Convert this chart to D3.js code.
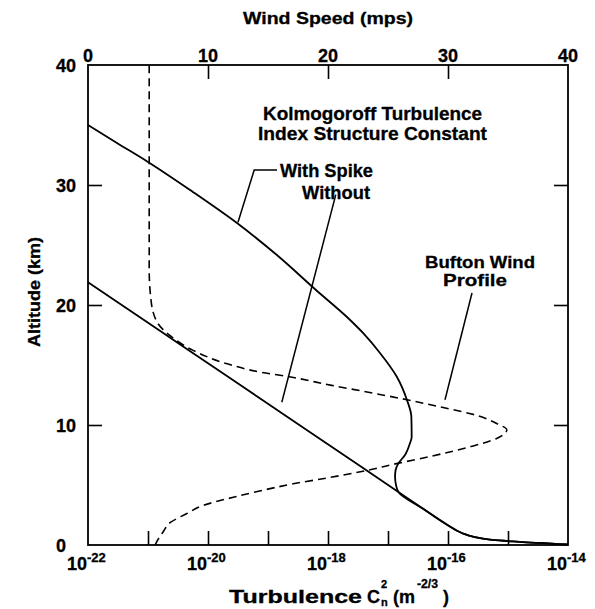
<!DOCTYPE html>
<html>
<head>
<meta charset="utf-8">
<script src="https://cdn.jsdelivr.net/npm/d3@7"></script>
<style>
  html, body { margin: 0; padding: 0; background: #fff; }
  svg { display: block; }
  text { font-family: "Liberation Sans", Arial, sans-serif; font-weight: bold; fill: #000; stroke: #000; stroke-width: 0.3; }
</style>
</head>
<body>
<svg id="chart" width="595" height="609"></svg>
<script>
// ---- Data ----
// Kolmogoroff turbulence index structure constant, "With Spike"
const withSpikeAlt = [35.0, 33.5, 31.92, 29.42, 26.83, 24.08, 21.25, 19.0, 17.67, 16.0, 14.0, 12.08, 10.7, 9.0, 8.5, 7.5, 6.8, 6.25, 5.7, 5.0, 4.42, 3.0, 1.67, 1.0, 0.67, 0.45, 0.33, 0.22, 0.15, 0.08, 0.04];
const withSpikeCn2 = [1.0e-22, 3.04e-22, 1.0e-21, 5.6e-21, 3.04e-20, 1.47e-19, 6.3e-19, 2.07e-18, 3.83e-18, 7.35e-18, 1.41e-17, 2.07e-17, 2.45e-17, 2.48e-17, 2.33e-17, 1.92e-17, 1.49e-17, 1.34e-17, 1.31e-17, 1.36e-17, 1.49e-17, 3.9e-17, 9.8e-17, 1.7e-16, 2.7e-16, 5.0e-16, 1.0e-15, 2.0e-15, 4.0e-15, 7.0e-15, 1.0e-14];
// "Without"
const withoutAlt = [21.9, 18.0, 14.0, 10.0, 6.5, 4.42, 3.0, 1.67, 1.0, 0.67, 0.45, 0.33, 0.22, 0.15, 0.08, 0.04];
const withoutCn2 = [1.0e-22, 1.43e-21, 2.19e-20, 3.33e-19, 3.63e-18, 1.49e-17, 3.9e-17, 9.8e-17, 1.7e-16, 2.7e-16, 5.0e-16, 1.0e-15, 2.0e-15, 4.0e-15, 7.0e-15, 1.0e-14];
// Bufton wind profile (mps)
const buftonAlt  = [0, 0.4, 1.0, 1.9, 2.6, 3.3, 4.0, 4.5, 5.1, 5.6, 6.1, 6.8, 7.4, 8.2, 8.9, 9.6, 10.1, 10.8, 11.5, 12.1, 12.8, 13.3, 14.0, 14.4, 15.1, 16.2, 17.4, 18.5, 20.4, 23, 28, 34, 40];
const buftonWind = [5.6, 5.8, 6.2, 6.9, 8.2, 9.6, 12.2, 14.3, 17.1, 20.0, 22.7, 25.8, 28.6, 31.9, 34.1, 34.9, 34.1, 32.4, 29.4, 26.6, 23.0, 20.3, 16.9, 14.4, 11.6, 8.8, 6.9, 5.8, 5.25, 5.1, 5.1, 5.1, 5.1];

// Axis ticks / labels
const altTicks = [0, 10, 20, 30, 40];
const windTicks = [0, 10, 20, 30, 40];
const cn2Decades = [1e-21, 1e-20, 1e-19, 1e-18, 1e-17, 1e-16, 1e-15];
const cn2LabelExp = [-22, -20, -18, -16, -14];

// ---- Layout ----
const L = 88, R = 568, T = 65, B = 545;
const svg = d3.select("#chart");

const x = d3.scaleLog().domain([1e-22, 1e-14]).range([L, R]);
const y = d3.scaleLinear().domain([0, 40]).range([B, T]);
const w = d3.scaleLinear().domain([0, 40]).range([L, R]);

// Frame
svg.append("rect").attr("x", L).attr("y", T).attr("width", R - L).attr("height", B - T)
  .attr("fill", "none").attr("stroke", "#000").attr("stroke-width", 1.8);

function styleAxis(g) {
  g.select(".domain").remove();
  g.selectAll(".tick line").attr("stroke", "#000").attr("stroke-width", 1.6);
  g.selectAll(".tick text").remove();
}
svg.append("g").attr("transform", `translate(0,${B})`)
  .call(d3.axisBottom(x).tickValues(cn2Decades).tickSizeInner(-14).tickSizeOuter(0).tickFormat(""))
  .call(styleAxis);
svg.append("g").attr("transform", `translate(0,${T})`)
  .call(d3.axisTop(w).tickValues([10, 20, 30]).tickSizeInner(-14).tickSizeOuter(0).tickFormat(""))
  .call(styleAxis);
svg.append("g").attr("transform", `translate(${L},0)`)
  .call(d3.axisLeft(y).tickValues([10, 20, 30]).tickSizeInner(-14).tickSizeOuter(0).tickFormat(""))
  .call(styleAxis);
svg.append("g").attr("transform", `translate(${R},0)`)
  .call(d3.axisRight(y).tickValues([10, 20, 30]).tickSizeInner(-14).tickSizeOuter(0).tickFormat(""))
  .call(styleAxis);

// Tick labels
svg.append("g").selectAll("text").data(altTicks).join("text")
  .attr("x", 56).attr("y", d => y(d) + 6.5)
  .attr("font-size", 18).text(d => d);
svg.append("g").selectAll("text").data(windTicks).join("text")
  .attr("x", d => w(d)).attr("y", 62).attr("text-anchor", "middle")
  .attr("font-size", 18).text(d => d);
const bl = svg.append("g").selectAll("g").data(cn2LabelExp).join("g")
  .attr("transform", d => `translate(${x(Math.pow(10, d))},0)`);
bl.append("text").attr("x", -1).attr("y", 570).attr("text-anchor", "end").attr("font-size", 18).text("10");
bl.append("text").attr("x", -1).attr("y", 562).attr("font-size", 13).text(d => String(d));

// Axis titles
svg.append("text").attr("x", 243).attr("y", 24).attr("font-size", 17)
  .attr("textLength", 170).attr("lengthAdjust", "spacingAndGlyphs").text("Wind Speed (mps)");
svg.append("text").attr("transform", "translate(40,292) rotate(-90)")
  .attr("text-anchor", "middle").attr("font-size", 17)
  .attr("textLength", 110).attr("lengthAdjust", "spacingAndGlyphs").text("Altitude (km)");
const bt = svg.append("g");
bt.append("text").attr("x", 229).attr("y", 603).attr("font-size", 18)
  .attr("textLength", 133).attr("lengthAdjust", "spacingAndGlyphs").text("Turbulence");
bt.append("text").attr("x", 367).attr("y", 603).attr("font-size", 18).text("C");
bt.append("text").attr("x", 381).attr("y", 588).attr("font-size", 11).text("2");
bt.append("text").attr("x", 381).attr("y", 606).attr("font-size", 11).text("n");
bt.append("text").attr("x", 393).attr("y", 603).attr("font-size", 18).text("(m");
bt.append("text").attr("x", 417).attr("y", 588).attr("font-size", 12)
  .attr("textLength", 21).attr("lengthAdjust", "spacingAndGlyphs").text("-2/3");
bt.append("text").attr("x", 443).attr("y", 603).attr("font-size", 18).text(")");

// Curves
const cn2Line = d3.line().x(d => x(d[1])).y(d => y(d[0])).curve(d3.curveMonotoneY);
const windLine = d3.line().x(d => w(d[1])).y(d => y(d[0])).curve(d3.curveMonotoneY);

svg.append("path").datum(withoutAlt.map((a, i) => [a, withoutCn2[i]]))
  .attr("d", cn2Line).attr("fill", "none").attr("stroke", "#000").attr("stroke-width", 1.8);
svg.append("path").datum(withSpikeAlt.map((a, i) => [a, withSpikeCn2[i]]))
  .attr("d", cn2Line).attr("fill", "none").attr("stroke", "#000").attr("stroke-width", 1.8);
svg.append("path").datum(buftonAlt.map((a, i) => [a, buftonWind[i]]))
  .attr("d", windLine).attr("fill", "none").attr("stroke", "#000").attr("stroke-width", 1.6)
  .attr("stroke-dasharray", "8,5");

// Annotations
svg.append("text").attr("x", 263).attr("y", 120).attr("font-size", 18)
  .attr("textLength", 219).attr("lengthAdjust", "spacingAndGlyphs").text("Kolmogoroff Turbulence");
svg.append("text").attr("x", 258).attr("y", 140).attr("font-size", 18)
  .attr("textLength", 229).attr("lengthAdjust", "spacingAndGlyphs").text("Index Structure Constant");
svg.append("text").attr("x", 280).attr("y", 177).attr("font-size", 18)
  .attr("textLength", 93).attr("lengthAdjust", "spacingAndGlyphs").text("With Spike");
svg.append("text").attr("x", 302).attr("y", 199).attr("font-size", 18)
  .attr("textLength", 68).attr("lengthAdjust", "spacingAndGlyphs").text("Without");
svg.append("text").attr("x", 425).attr("y", 268).attr("font-size", 17)
  .attr("textLength", 110).attr("lengthAdjust", "spacingAndGlyphs").text("Bufton Wind");
svg.append("text").attr("x", 443).attr("y", 286).attr("font-size", 17)
  .attr("textLength", 64).attr("lengthAdjust", "spacingAndGlyphs").text("Profile");

// Leader lines (in data units)
const leaderSpike = [[31.25, 10 ** -18.85], [31.25, 10 ** -19.23], [26.9, 10 ** -19.50]];
const leaderWithout = [[29.2, 10 ** -17.87], [11.9, 10 ** -18.77]];
const leaderBufton = [[21.0, 32.0], [12.1, 29.75]];
const straightCn2 = d3.line().x(d => x(d[1])).y(d => y(d[0]));
const straightWind = d3.line().x(d => w(d[1])).y(d => y(d[0]));
[leaderSpike, leaderWithout].forEach(p => svg.append("path").attr("d", straightCn2(p))
  .attr("fill", "none").attr("stroke", "#000").attr("stroke-width", 1.5));
svg.append("path").attr("d", straightWind(leaderBufton))
  .attr("fill", "none").attr("stroke", "#000").attr("stroke-width", 1.5);
</script>
</body>
</html>
